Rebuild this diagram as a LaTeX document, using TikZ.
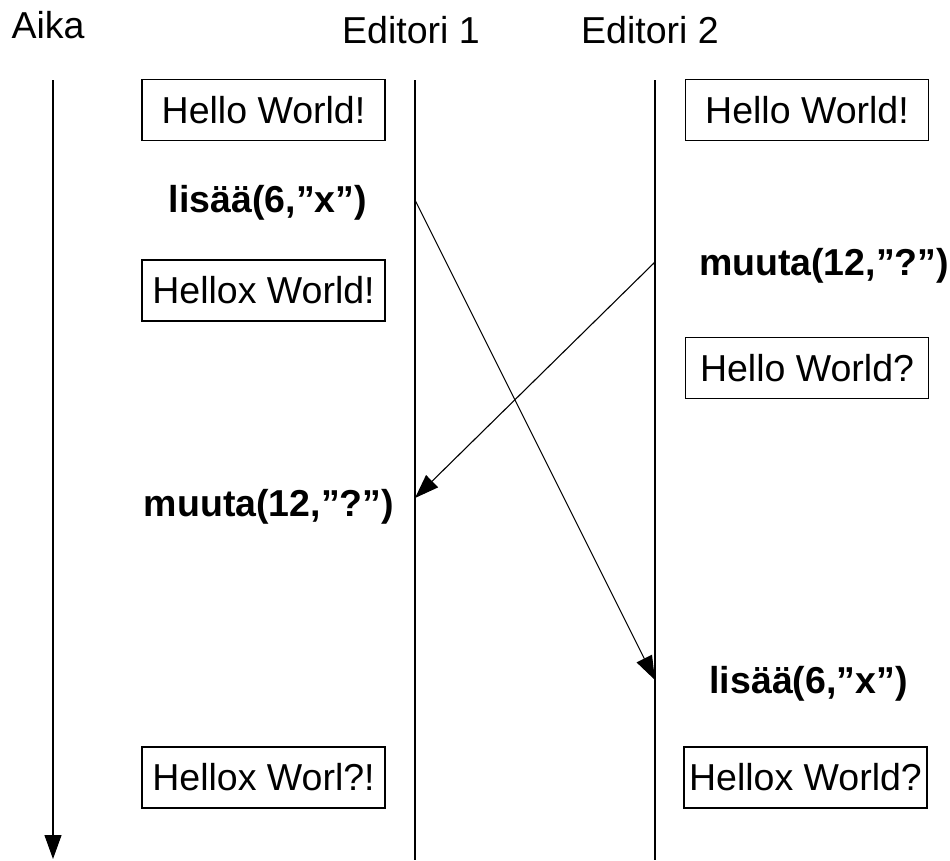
\documentclass[tikz,border=0pt]{standalone}
\usepackage{fontspec}
\setmainfont{Liberation Sans}
\usetikzlibrary{arrows.meta}
\begin{document}
\begin{tikzpicture}[x=1pt,y=-1pt,
  font=\fontsize{37.5}{44}\selectfont,
  every node/.style={inner sep=0pt,outer sep=0pt},
  title/.style={anchor=base},
  state/.style={draw,line width=1.3pt,minimum width=243pt,minimum height=61pt,
    text height=26pt,text depth=0pt},
  op/.style={font=\fontsize{37.5}{44}\selectfont\bfseries,text height=26pt,text depth=0pt},
  life/.style={line width=1.1pt},
  msg/.style={line width=1.1pt,-{Triangle[length=24pt,width=17pt]}}]
\useasboundingbox (0,0) rectangle (950,860);

% column headings
\node[title] (aika) at (48,38) {Aika};
\node[title] (ed1) at (411,43) {Editori 1};
\node[title] (ed2) at (650,43) {Editori 2};

% time axis and lifelines
\coordinate (t0) at (53,80);
\coordinate (t1) at (53,859);
\coordinate (e1top) at (415,80);
\coordinate (e1bot) at (415,860);
\coordinate (e2top) at (655,80);
\coordinate (e2bot) at (655,860);
\draw[msg] (t0) -- (t1);
\draw[life] (e1top) -- (e1bot);
\draw[life] (e2top) -- (e2bot);

% document states
\node[state] (s1l) at (263.5,110) {Hello World!};
\node[state] (s1r) at (807,110) {Hello World!};
\node[state] (s2l) at (263.5,290.5) {Hellox World!};
\node[state] (s2r) at (807,368) {Hello World?};
\node[state] (s3l) at (263.5,777.5) {Hellox Worl?!};
\node[state] (s3r) at (805.5,777.5) {Hellox World?};

% operations
\node[op] (ins1) at (268,199.5) {lisää(6,”x”)};
\node[op] (chg2) at (824,262.5) {muuta(12,”?”)};
\node[op] (chg1) at (269,503.5) {muuta(12,”?”)};
\node[op] (ins2) at (808.5,680.5) {lisää(6,”x”)};

% messages between the editors
\coordinate (insFrom) at (415,200);
\coordinate (insTo) at (655,680);
\coordinate (chgFrom) at (655,262);
\coordinate (chgTo) at (415,498);
\draw[msg] (insFrom) -- (insTo);
\draw[msg] (chgFrom) -- (chgTo);
\end{tikzpicture}
\end{document}
